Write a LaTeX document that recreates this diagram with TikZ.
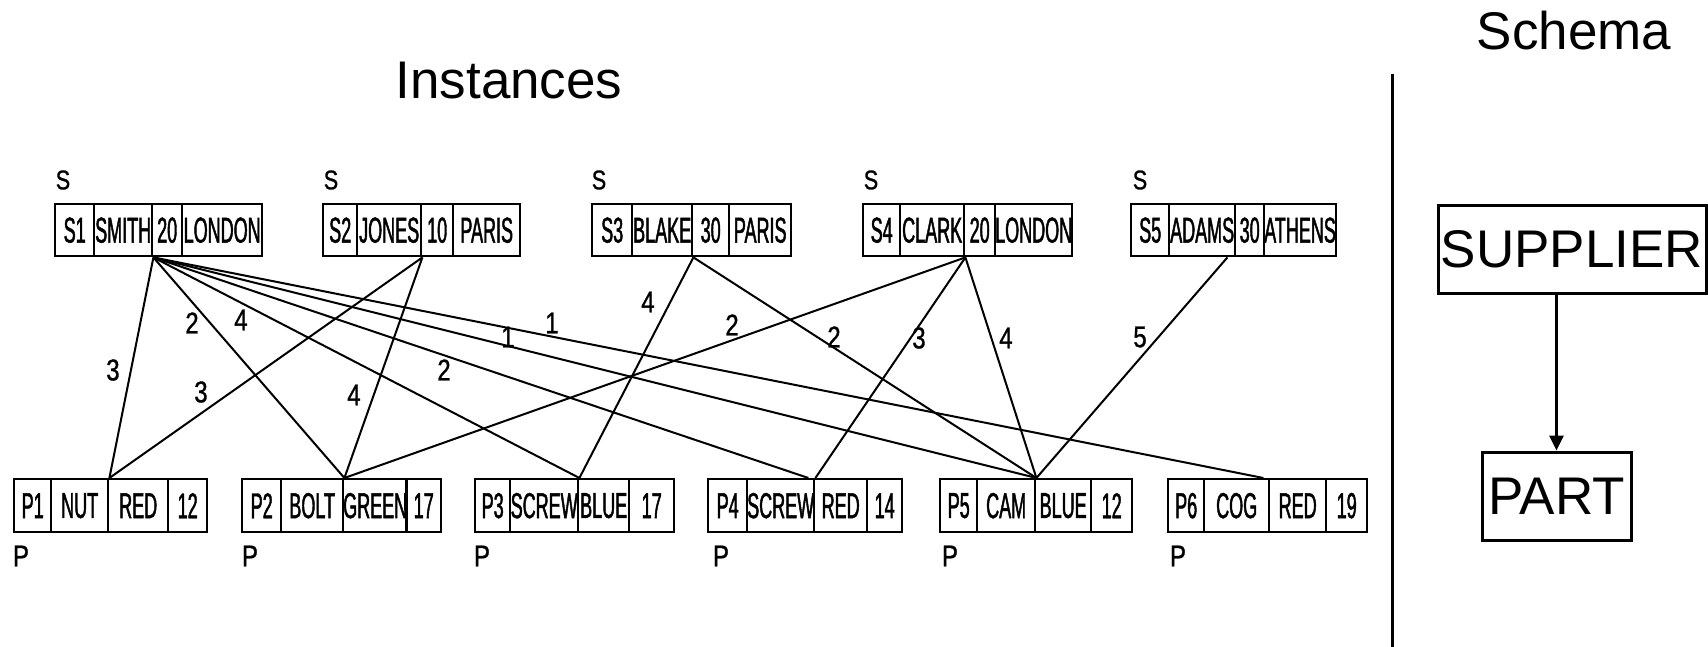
\documentclass[tikz,border=0pt]{standalone}
\usepackage{fontspec}
\setmainfont{Liberation Sans}
\newfontfamily\handfont[FakeStretch=0.5,FakeBold=1.2]{Liberation Sans}
\newfontfamily\numfont[FakeStretch=0.8,FakeBold=1]{Liberation Sans}
\usetikzlibrary{arrows.meta}
\newcommand\rcell[6]{\node[cell, minimum width=#4pt, minimum height=#5pt] (#1) at (#2,#3) {#6};}
\begin{document}
\begin{tikzpicture}[x=1pt,y=-1pt,
  cell/.style={draw, line width=2.4pt, inner sep=0pt, anchor=north west,
    font=\handfont\fontsize{36}{36}\selectfont},
  edge/.style={line width=2pt},
  lab/.style={font=\numfont\fontsize{30}{30}\selectfont, inner sep=0pt},
  tag/.style={font=\numfont\fontsize{27}{27}\selectfont, inner sep=0pt},
  ptag/.style={font=\numfont\fontsize{30}{30}\selectfont, inner sep=0pt},
  title/.style={font=\fontsize{53}{53}\selectfont, inner sep=0pt, anchor=base},
  schemabox/.style={draw, line width=3pt, inner sep=0pt, font=\fontsize{53}{53}\selectfont}]
\useasboundingbox (0,0) rectangle (1708,647);
% titles
\node[title] (inst) at (509,99) {Instances};
\node[title] (sch) at (1574,50) {Schema};
% divider
\coordinate (dtop) at (1392,74);
\coordinate (dbot) at (1392,647);
\draw[line width=3pt] (dtop) -- (dbot);
% supplier records
\rcell{s1a}{54}{203}{39}{52}{S1}
\rcell{s1b}{93}{203}{58}{52}{SMITH}
\rcell{s1c}{151}{203}{30}{52}{20}
\rcell{s1d}{181}{203}{80}{52}{LONDON}
\rcell{s2a}{322}{203}{34}{52}{S2}
\rcell{s2b}{356}{203}{64}{52}{JONES}
\rcell{s2c}{420}{203}{32}{52}{10}
\rcell{s2d}{452}{203}{67}{52}{PARIS}
\rcell{s3a}{591}{203}{40}{52}{S3}
\rcell{s3b}{631}{203}{60}{52}{BLAKE}
\rcell{s3c}{691}{203}{37}{52}{30}
\rcell{s3d}{728}{203}{62}{52}{PARIS}
\rcell{s4a}{862}{203}{37}{52}{S4}
\rcell{s4b}{899}{203}{64}{52}{CLARK}
\rcell{s4c}{963}{203}{31}{52}{20}
\rcell{s4d}{994}{203}{76}{52}{LONDON}
\rcell{s5a}{1130}{203}{38}{52}{S5}
\rcell{s5b}{1168}{203}{66}{52}{ADAMS}
\rcell{s5c}{1234}{203}{29}{52}{30}
\rcell{s5d}{1263}{203}{70}{52}{ATHENS}
\node[tag] (t1) at (63,180) {S};
\node[tag] (t2) at (331,180) {S};
\node[tag] (t3) at (599,180) {S};
\node[tag] (t4) at (871,180) {S};
\node[tag] (t5) at (1140,180) {S};
% part records
\rcell{p1a}{13}{478}{37}{53}{P1}
\rcell{p1b}{50}{478}{57}{53}{NUT}
\rcell{p1c}{107}{478}{60}{53}{RED}
\rcell{p1d}{167}{478}{39}{53}{12}
\rcell{p2a}{241}{478}{39}{53}{P2}
\rcell{p2b}{280}{478}{62}{53}{BOLT}
\rcell{p2c}{342}{478}{63}{53}{GREEN}
\rcell{p2d}{405}{478}{35}{53}{17}
\rcell{p3a}{474}{478}{35}{53}{P3}
\rcell{p3b}{509}{478}{68}{53}{SCREW}
\rcell{p3c}{577}{478}{51}{53}{BLUE}
\rcell{p3d}{628}{478}{45}{53}{17}
\rcell{p4a}{707}{478}{39}{53}{P4}
\rcell{p4b}{746}{478}{67}{53}{SCREW}
\rcell{p4c}{813}{478}{53}{53}{RED}
\rcell{p4d}{866}{478}{35}{53}{14}
\rcell{p5a}{939}{478}{37}{53}{P5}
\rcell{p5b}{976}{478}{58}{53}{CAM}
\rcell{p5c}{1034}{478}{56}{53}{BLUE}
\rcell{p5d}{1090}{478}{41}{53}{12}
\rcell{p6a}{1167}{478}{36}{53}{P6}
\rcell{p6b}{1203}{478}{65}{53}{COG}
\rcell{p6c}{1268}{478}{57}{53}{RED}
\rcell{p6d}{1325}{478}{41}{53}{19}
\node[ptag] (u1) at (21,556) {P};
\node[ptag] (u2) at (250,556) {P};
\node[ptag] (u3) at (482,556) {P};
\node[ptag] (u4) at (721,556) {P};
\node[ptag] (u5) at (950,556) {P};
\node[ptag] (u6) at (1178,556) {P};
% shipments
\draw[edge] (s1b.south east) -- (p1b.north east);
\draw[edge] (s1b.south east) -- (p2b.north east);
\draw[edge] (s1b.south east) -- (p3b.north east);
\draw[edge] (s1b.south east) -- ([xshift=-7pt]p4b.north east);
\draw[edge] (s1b.south east) -- (p5b.north east);
\draw[edge] (s1b.south east) -- ([xshift=-7pt]p6b.north east);
\draw[edge] (s2b.south east) -- (p1b.north east);
\draw[edge] (s2b.south east) -- (p2b.north east);
\draw[edge] (s3b.south east) -- (p3b.north east);
\draw[edge] (s3b.south east) -- (p5b.north east);
\draw[edge] (s4b.south east) -- (p2b.north east);
\draw[edge] (s4b.south east) -- (p4b.north east);
\draw[edge] (s4b.south east) -- (p5b.north east);
\draw[edge] ([xshift=-9pt]s5b.south east) -- (p5b.north east);
% quantities
\node[lab] (l1) at (113,370) {3};
\node[lab] (l2) at (192,323) {2};
\node[lab] (l3) at (241,320) {4};
\node[lab] (l4) at (201,392) {3};
\node[lab] (l5) at (354,395) {4};
\node[lab] (l6) at (444,370) {2};
\node[lab] (l7) at (508,337) {1};
\node[lab] (l8) at (552,323) {1};
\node[lab] (l9) at (648,302) {4};
\node[lab] (l10) at (732,325) {2};
\node[lab] (l11) at (834,337) {2};
\node[lab] (l12) at (919,338) {3};
\node[lab] (l13) at (1006,338) {4};
\node[lab] (l14) at (1140,337) {5};
% schema
\node[schemabox, minimum width=268pt, minimum height=87pt] (sup) at (1572,249.5) {SUPPLIER};
\node[schemabox, minimum width=149pt, minimum height=88pt] (part) at (1556.5,496) {PART};
\draw[line width=3pt, -{Triangle[length=15pt,width=14pt]}] (sup.south -| part.north) -- (part.north);
\end{tikzpicture}
\end{document}
